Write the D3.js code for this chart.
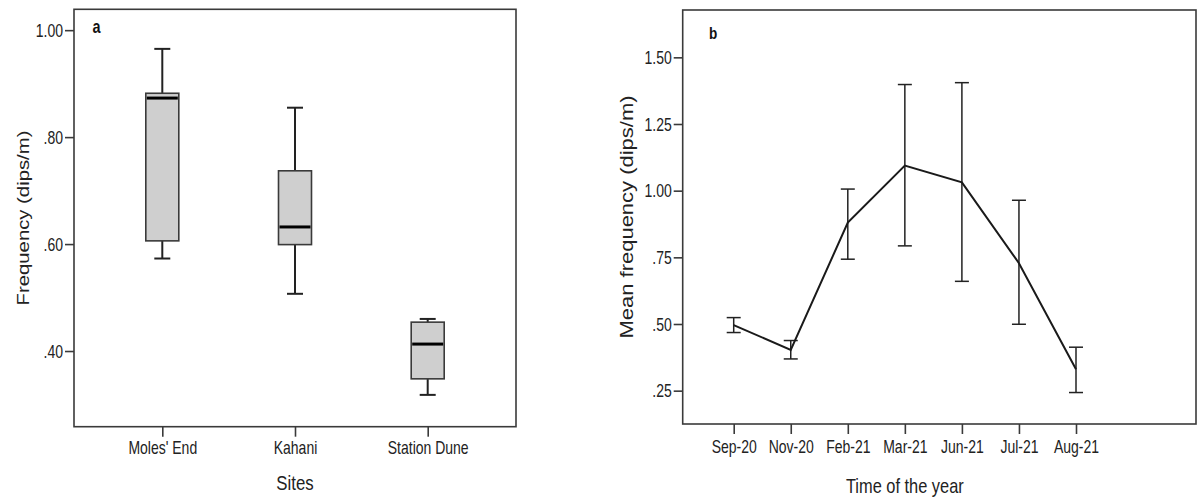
<!DOCTYPE html>
<html><head><meta charset="utf-8">
<script src="https://cdn.jsdelivr.net/npm/d3@7"></script>
<style>
body{margin:0;background:#fff;}
svg{display:block;}
.tick-lab{font-family:"Liberation Sans",Arial,sans-serif;font-size:17.5px;fill:#222;}
.title{font-family:"Liberation Sans",Arial,sans-serif;fill:#222;}
</style></head>
<body>
<svg id="c" width="1197" height="497"></svg>
<script>
// Panel a: box plots by site
const sites = ["Moles' End", "Kahani", "Station Dune"];
const whiskerLow  = [0.573, 0.507, 0.318];
const q1          = [0.606, 0.599, 0.348];
const medians     = [0.873, 0.632, 0.413];
const q3          = [0.882, 0.737, 0.454];
const whiskerHigh = [0.965, 0.855, 0.460];
const ticksA = [0.40, 0.60, 0.80, 1.00];
const tickLabelsA = [".40", ".60", ".80", "1.00"];

// Panel b: mean frequency over time with error bars
const months = ["Sep-20", "Nov-20", "Feb-21", "Mar-21", "Jun-21", "Jul-21", "Aug-21"];
const means   = [0.496, 0.403, 0.880, 1.094, 1.031, 0.728, 0.330];
const errLow  = [0.468, 0.369, 0.743, 0.793, 0.660, 0.499, 0.243];
const errHigh = [0.524, 0.438, 1.006, 1.398, 1.405, 0.964, 0.413];
const ticksB = [0.25, 0.50, 0.75, 1.00, 1.25, 1.50];
const tickLabelsB = [".25", ".50", ".75", "1.00", "1.25", "1.50"];

const svg = d3.select("#c");
const frameColor = "#3a3a3a";
const SX = 0.8; // horizontal condensation of the original typeface

function styleYTicks(sel){
  sel.select(".domain").remove();
  sel.selectAll("line").attr("stroke",frameColor).attr("stroke-width",1.6);
  sel.selectAll("text").attr("class","tick-lab").attr("x",0).attr("dy","0.36em")
    .attr("transform",`translate(-11,0) scale(${SX},1)`);
}
function styleXTicks(sel, base){
  sel.select(".domain").remove();
  sel.selectAll("line").attr("stroke",frameColor).attr("stroke-width",1.6);
  sel.selectAll("text").attr("class","tick-lab").attr("y",0).attr("dy",0)
    .attr("transform",`translate(0,${base}) scale(${SX},1)`);
}

// ---------- Panel a ----------
const A = {left:74, right:516, top:9.3, bottom:426.7};
const yA = d3.scaleLinear().domain([0.2585, 1.039]).range([A.bottom, A.top]);
const xA = d3.scalePoint().domain(sites).range([162.3, 427.7]);
const gA = svg.append("g");
gA.append("rect").attr("x",A.left).attr("y",A.top).attr("width",A.right-A.left).attr("height",A.bottom-A.top)
  .attr("fill","none").attr("stroke",frameColor).attr("stroke-width",1.6);

gA.append("g").attr("transform",`translate(${A.left},0)`)
  .call(d3.axisLeft(yA).tickValues(ticksA).tickSize(9).tickFormat((d,i)=>tickLabelsA[i]))
  .call(styleYTicks);
gA.append("g").attr("transform",`translate(0,${A.bottom})`)
  .call(d3.axisBottom(xA).tickSize(10))
  .call(s=>styleXTicks(s,27.5));

const bw = 33;
sites.forEach((s,i)=>{
  const cx = xA(s);
  const g = gA.append("g");
  g.append("line").attr("x1",cx).attr("x2",cx).attr("y1",yA(q3[i])).attr("y2",yA(whiskerHigh[i])).attr("stroke","#222").attr("stroke-width",2);
  g.append("line").attr("x1",cx).attr("x2",cx).attr("y1",yA(q1[i])).attr("y2",yA(whiskerLow[i])).attr("stroke","#222").attr("stroke-width",2);
  g.append("line").attr("x1",cx-8).attr("x2",cx+8).attr("y1",yA(whiskerHigh[i])).attr("y2",yA(whiskerHigh[i])).attr("stroke","#222").attr("stroke-width",2);
  g.append("line").attr("x1",cx-8).attr("x2",cx+8).attr("y1",yA(whiskerLow[i])).attr("y2",yA(whiskerLow[i])).attr("stroke","#222").attr("stroke-width",2);
  g.append("rect").attr("x",cx-bw/2).attr("y",yA(q3[i])).attr("width",bw).attr("height",yA(q1[i])-yA(q3[i]))
    .attr("fill","#cfcfcf").attr("stroke","#3a3a3a").attr("stroke-width",1.6);
  g.append("line").attr("x1",cx-bw/2+1).attr("x2",cx+bw/2-1).attr("y1",yA(medians[i])).attr("y2",yA(medians[i])).attr("stroke","#000").attr("stroke-width",3);
});
gA.append("text").attr("transform",`translate(92.5,33) scale(${SX},1)`).attr("font-family","Liberation Sans, Arial").attr("font-weight","bold").attr("font-size",18).attr("fill","#111").text("a");
gA.append("text").attr("class","title").attr("transform",`translate(${xA("Kahani")},490) scale(${SX},1)`).attr("text-anchor","middle").attr("font-size",21).text("Sites");
gA.append("text").attr("class","title").attr("transform",`translate(28.5,${(A.top+A.bottom)/2}) scale(${SX},1) rotate(-90)`).attr("text-anchor","middle").attr("font-size",20.3).text("Frequency (dips/m)");

// ---------- Panel b ----------
const B = {left:682.7, right:1196, top:10, bottom:424};
const yB = d3.scaleLinear().domain([0.125, 1.6775]).range([B.bottom, B.top]);
const xB = d3.scalePoint().domain(months).range([733.7, 1076]);
const gB = svg.append("g");
gB.append("rect").attr("x",B.left).attr("y",B.top).attr("width",B.right-B.left).attr("height",B.bottom-B.top)
  .attr("fill","none").attr("stroke",frameColor).attr("stroke-width",1.6);
gB.append("g").attr("transform",`translate(${B.left},0)`)
  .call(d3.axisLeft(yB).tickValues(ticksB).tickSize(9).tickFormat((d,i)=>tickLabelsB[i]))
  .call(styleYTicks);
gB.append("g").attr("transform",`translate(0,${B.bottom})`)
  .call(d3.axisBottom(xB).tickSize(10))
  .call(s=>styleXTicks(s,29));

months.forEach((m,i)=>{
  const cx = xB(m);
  const g = gB.append("g").attr("stroke","#222").attr("stroke-width",1.5);
  g.append("line").attr("x1",cx).attr("x2",cx).attr("y1",yB(errLow[i])).attr("y2",yB(errHigh[i]));
  g.append("line").attr("x1",cx-7).attr("x2",cx+7).attr("y1",yB(errLow[i])).attr("y2",yB(errLow[i]));
  g.append("line").attr("x1",cx-7).attr("x2",cx+7).attr("y1",yB(errHigh[i])).attr("y2",yB(errHigh[i]));
});
const line = d3.line().x((d,i)=>xB(months[i])).y(d=>yB(d));
gB.append("path").datum(means).attr("d",line).attr("fill","none").attr("stroke","#1a1a1a").attr("stroke-width",2);

gB.append("text").attr("transform",`translate(709,39) scale(${SX},1)`).attr("font-family","Liberation Sans, Arial").attr("font-weight","bold").attr("font-size",17).attr("fill","#111").text("b");
gB.append("text").attr("class","title").attr("transform",`translate(${xB("Mar-21")},493) scale(${SX},1)`).attr("text-anchor","middle").attr("font-size",20.5).text("Time of the year");
gB.append("text").attr("class","title").attr("transform",`translate(633,${(B.top+B.bottom)/2}) scale(${SX},1) rotate(-90)`).attr("text-anchor","middle").attr("font-size",22).text("Mean frequency (dips/m)");
</script>
</body></html>
